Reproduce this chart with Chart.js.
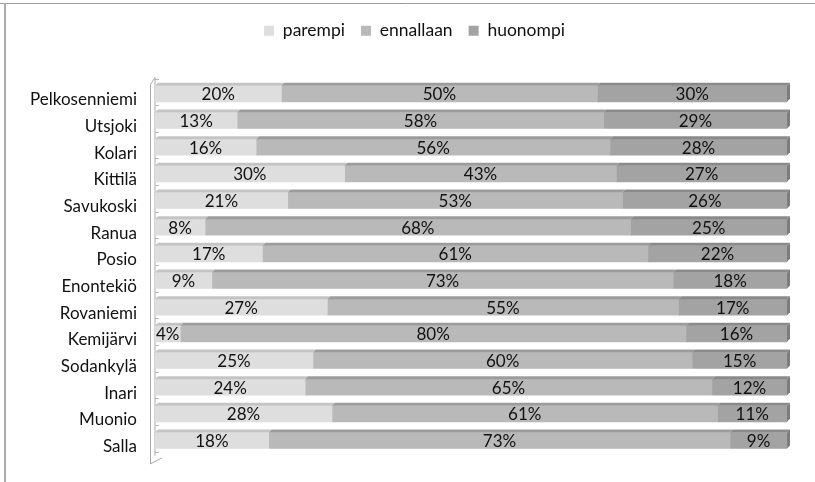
<!DOCTYPE html>
<html>
<head>
<meta charset="utf-8">
<script src="https://cdn.jsdelivr.net/npm/chart.js@4/dist/chart.umd.min.js"></script>
<style>
  body { margin: 0; background: #fff; }
  canvas { display: block; }
</style>
</head>
<body>
<canvas id="chart" width="815" height="482"></canvas>
<script>
const municipalities = [
  "Pelkosenniemi", "Utsjoki", "Kolari", "Kittilä", "Savukoski", "Ranua", "Posio",
  "Enontekiö", "Rovaniemi", "Kemijärvi", "Sodankylä", "Inari", "Muonio", "Salla",
];
const parempi   = [20, 13, 16, 30, 21, 8, 17, 9, 27, 4, 25, 24, 28, 18];
const ennallaan = [50, 58, 56, 43, 53, 68, 61, 73, 55, 80, 60, 65, 61, 73];
const huonompi  = [30, 29, 28, 27, 26, 25, 22, 18, 17, 16, 15, 12, 11, 9];

const seriesNames = ["parempi", "ennallaan", "huonompi"];
const colors = ["#dedede", "#b9b9b9", "#a3a3a3"];
const topColors = ["#c4c4c4", "#9c9c9c", "#8a8a8a"];
const rawValues = [parempi, ennallaan, huonompi];

// 100 % stacked: share of each row
const rowSums = municipalities.map((_, i) => parempi[i] + ennallaan[i] + huonompi[i]);
const shares = rawValues.map(arr => arr.map((v, i) => v / rowSums[i] * 100));

const FONT = "Lato";

// extra room under the legend, and nudge it a bit to the right
const legendGap = {
  id: "legendGap",
  beforeUpdate(chart) {
    const lg = chart.legend;
    if (lg && !lg._gapPatched) {
      const fit = lg.fit;
      lg.fit = function () { fit.call(this); this.height += 31; };
      lg._gapPatched = true;
    }
  },
  afterLayout(chart) {
    const lg = chart.legend;
    if (lg) { lg.left += 13; lg.right += 13; }
  }
};

const frame3d = {
  id: "frame3d",
  beforeDatasetsDraw(chart) {
    const ctx = chart.ctx;
    const a = chart.chartArea;
    const yScale = chart.scales.y;
    ctx.save();
    // outer frame (top + left)
    ctx.strokeStyle = "#9c9c9c";
    ctx.lineWidth = 1;
    ctx.beginPath();
    ctx.moveTo(0, 3.5); ctx.lineTo(chart.width, 3.5);
    ctx.stroke();
    ctx.strokeStyle = "#ababab";
    ctx.lineWidth = 2;
    ctx.beginPath();
    ctx.moveTo(5, 3); ctx.lineTo(5, chart.height);
    ctx.stroke();

    // left wall
    const xl = a.left - 5, xr = a.left - 1;
    ctx.strokeStyle = "#a8a8a8";
    ctx.lineWidth = 1;
    ctx.beginPath();
    ctx.moveTo(xl + 0.5, a.top + 4);
    ctx.lineTo(xl + 0.5, a.bottom + 10);
    ctx.lineTo(xr + 8, a.bottom + 4);
    ctx.stroke();
    ctx.beginPath();
    ctx.moveTo(xl + 0.5, a.top + 4);
    ctx.lineTo(xr + 1, a.top - 3);
    ctx.lineTo(xr + 1, a.bottom + 2);
    ctx.stroke();
    // small floor ticks between rows
    ctx.strokeStyle = "#b5b5b5";
    const n = municipalities.length;
    for (let i = 0; i <= n; i++) {
      const y = Math.round(yScale.getPixelForValue(i - 0.5)) + 0.5;
      ctx.beginPath();
      ctx.moveTo(xr + 1, y - 2);
      ctx.lineTo(xr + 5, y - 2);
      ctx.stroke();
    }
    ctx.restore();
  },
  afterDatasetsDraw(chart) {
    const ctx = chart.ctx;
    const dx = 3, dy = 3;
    ctx.save();
    chart.data.datasets.forEach((ds, di) => {
      const meta = chart.getDatasetMeta(di);
      meta.data.forEach((el, i) => {
        const left = Math.min(el.base, el.x), right = Math.max(el.base, el.x);
        const top = el.y - el.height / 2, bottom = el.y + el.height / 2;
        ctx.fillStyle = topColors[di];
        ctx.beginPath();
        ctx.moveTo(left, top);
        ctx.lineTo(right, top);
        ctx.lineTo(right + dx, top - dy);
        ctx.lineTo(left + dx, top - dy);
        ctx.closePath();
        ctx.fill();
        if (di === chart.data.datasets.length - 1) {
          ctx.fillStyle = "#7d7d7d";
          ctx.beginPath();
          ctx.moveTo(right, top);
          ctx.lineTo(right + dx, top - dy);
          ctx.lineTo(right + dx, bottom - dy);
          ctx.lineTo(right, bottom);
          ctx.closePath();
          ctx.fill();
        }
      });
    });
    // value labels
    ctx.fillStyle = "#111";
    ctx.font = "17px " + FONT;
    ctx.textAlign = "center";
    ctx.textBaseline = "middle";
    chart.data.datasets.forEach((ds, di) => {
      const meta = chart.getDatasetMeta(di);
      meta.data.forEach((el, i) => {
        const cx = (el.base + el.x) / 2;
        ctx.fillText(rawValues[di][i] + "%", cx, el.y + 1);
      });
    });
    ctx.restore();
  }
};

new Chart(document.getElementById("chart"), {
  type: "bar",
  data: {
    labels: municipalities,
    datasets: seriesNames.map((name, k) => ({
      label: name,
      data: shares[k],
      backgroundColor: colors[k],
      borderWidth: 0,
      barThickness: 16,
    })),
  },
  options: {
    indexAxis: "y",
    responsive: false,
    animation: false,
    layout: { padding: { top: 6, right: 28, bottom: 23, left: 16 } },
    plugins: {
      legend: {
        position: "top",
        labels: {
          font: { family: FONT, size: 17.5 },
          color: "#111",
          boxWidth: 10,
          boxHeight: 10,
          padding: 16,
        },
      },
      tooltip: { enabled: false },
    },
    scales: {
      x: {
        stacked: true,
        min: 0,
        max: 100,
        display: false,
      },
      y: {
        stacked: true,
        grid: { display: false, drawTicks: false },
        border: { display: false },
        ticks: {
          font: { family: FONT, size: 17 },
          color: "#111",
          padding: 18,
          labelOffset: 6,
        },
        afterFit(scale) { scale.width = 139; },
      },
    },
  },
  plugins: [legendGap, frame3d],
});
</script>
</body>
</html>
